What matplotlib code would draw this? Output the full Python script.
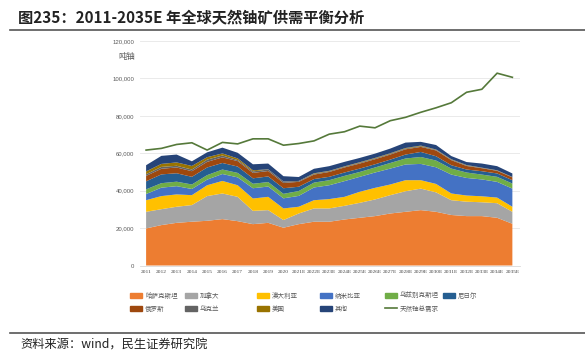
import numpy as np
import matplotlib
matplotlib.use("Agg")
import matplotlib.pyplot as plt
from matplotlib.patches import Patch
from matplotlib.lines import Line2D
from matplotlib.ticker import FuncFormatter

plt.rcParams['font.family'] = ['Noto Sans CJK SC', 'DejaVu Sans']

years = ['2011', '2012', '2013', '2014', '2015', '2016', '2017', '2018', '2019', '2020',
         '2021E', '2022E', '2023E', '2024E', '2025E', '2026E', '2027E', '2028E', '2029E',
         '2030E', '2031E', '2032E', '2033E', '2034E', '2035E']

# supply by country, thousand tonnes U
kazakhstan = [19.8, 21.6, 22.8, 23.4, 23.9, 24.8, 23.7, 22.1, 22.8, 20.2, 22.1,
              23.4, 23.4, 24.6, 25.5, 26.4, 27.8, 28.7, 29.6, 28.7, 27.0, 26.4, 26.4, 25.5, 22.3]
canada = [8.9, 8.5, 8.6, 8.9, 13.2, 13.7, 13.0, 7.1, 6.8, 4.1, 5.7,
          7.1, 7.1, 7.3, 8.0, 8.9, 9.8, 11.0, 11.5, 10.4, 7.9, 7.7, 7.4, 7.8, 6.4]
australia = [6.2, 7.0, 6.6, 5.3, 5.8, 6.7, 6.2, 6.6, 7.1, 6.2, 3.6,
             4.4, 5.0, 4.8, 5.9, 6.2, 5.7, 5.9, 4.5, 4.5, 3.6, 3.3, 3.2, 3.0, 2.7]
namibia = [3.3, 4.5, 4.4, 3.3, 3.0, 3.7, 4.2, 5.5, 5.5, 5.4, 5.8,
           6.8, 7.4, 8.4, 8.0, 8.2, 8.5, 8.4, 8.7, 8.9, 10.1, 9.4, 9.0, 8.4, 9.7]
uzbekistan = [2.5, 2.4, 2.4, 2.4, 2.4, 2.4, 2.4, 2.4, 2.4, 2.4, 2.6,
              2.6, 2.7, 2.8, 2.6, 2.7, 3.0, 3.2, 3.7, 3.6, 3.2, 2.9, 2.6, 2.7, 2.7]
niger = [4.3, 4.7, 4.5, 4.1, 4.1, 3.5, 3.4, 2.9, 3.0, 3.0, 2.3,
         1.9, 1.8, 1.8, 1.8, 1.7, 1.8, 2.1, 2.7, 2.3, 1.8, 1.6, 1.8, 1.8, 1.8]
russia = [2.9, 3.0, 3.1, 3.0, 3.0, 3.0, 2.9, 2.9, 2.9, 2.85, 2.6,
          2.4, 2.6, 2.7, 2.7, 2.7, 2.7, 2.8, 2.7, 3.1, 2.7, 1.9, 1.6, 1.4, 1.5]
ukraine = [0.9, 1.0, 0.9, 0.9, 1.2, 1.0, 0.55, 0.8, 0.8, 0.74, 0.45,
           0.4, 0.4, 0.35, 0.4, 0.4, 0.4, 0.4, 0.4, 0.3, 0.3, 0.3, 0.2, 0.2, 0.1]
usa = [1.5, 1.6, 1.8, 1.9, 1.3, 1.1, 0.9, 0.6, 0.1, 0.05, 0.05,
       0.3, 0.2, 0.25, 0.3, 0.3, 0.3, 0.3, 0.3, 0.2, 0.2, 0.2, 0.1, 0.1, 0.1]
others = [3.3, 4.3, 4.2, 2.5, 2.6, 3.1, 3.0, 3.2, 3.1, 2.8, 2.1,
          2.4, 2.5, 2.4, 2.3, 2.3, 2.5, 2.9, 2.0, 2.4, 1.7, 1.6, 2.2, 2.2, 1.9]
demand = [61.7, 62.6, 64.7, 65.6, 61.7, 65.8, 65.0, 67.7, 67.7, 64.3, 65.2,
          66.6, 70.2, 71.5, 74.5, 73.6, 77.4, 79.2, 81.9, 84.3, 87.0, 92.6, 94.2, 102.8, 100.6]

names = ['哈萨克斯坦', '加拿大', '澳大利亚', '纳米比亚', '乌兹别克斯坦', '尼日尔',
         '俄罗斯', '乌克兰', '美国', '其他']
colors = ['#ED7D31', '#A5A5A5', '#FFC000', '#4472C4', '#70AD47', '#255E91',
          '#9E480E', '#636363', '#997300', '#264478']
demand_name = '天然铀总需求'
demand_color = '#55793A'

supply = [kazakhstan, canada, australia, namibia, uzbekistan, niger, russia, ukraine, usa, others]
supply = [np.array(s) * 1000 for s in supply]
x = np.arange(len(years))

fig = plt.figure(figsize=(5.85, 3.58), dpi=100)
W, H = 585, 358
ax = fig.add_axes([140 / W, 1 - 265.5 / H, 380 / W, 224.5 / H])

ax.stackplot(x, *supply, colors=colors, linewidth=0)
ax.plot(x, np.array(demand) * 1000, color=demand_color, lw=1.2)

ax.set_xlim(-0.4, 24.5)
ax.set_ylim(0, 120000)
ax.set_yticks(np.arange(0, 120001, 20000))
ax.yaxis.set_major_formatter(FuncFormatter(lambda v, p: f"{int(v):,}"))
ax.grid(axis='y', color='#E6E6E6', lw=0.6)
ax.set_axisbelow(True)
for s in ['top', 'right', 'left']:
    ax.spines[s].set_visible(False)
ax.spines['bottom'].set_color('#D9D9D9')
ax.spines['bottom'].set_linewidth(0.6)
ax.tick_params(axis='y', length=0, pad=4, labelsize=4.3, labelcolor='#595959')
ax.tick_params(axis='x', length=0, pad=3)
ax.set_xticks(x)
ax.set_xticklabels(years, fontsize=3.9, color='#404040', family='Liberation Serif')
for lab in ax.get_yticklabels():
    lab.set_family('Liberation Sans')

fig.text(135 / W, 1 - 57 / H, '吨铀', ha='right', va='center', fontsize=6, color='#595959')

# title and frame lines
fig.text(18 / W, 1 - 18 / H, '图235：2011-2035E 年全球天然铀矿供需平衡分析',
         fontsize=11, fontweight='bold', color='#222222', va='center')
fig.add_artist(Line2D([10 / W, 1], [1 - 30 / H] * 2, color='#555555', lw=1.2))
fig.add_artist(Line2D([10 / W, 1], [1 - 333 / H] * 2, color='#555555', lw=1.2))
fig.text(20 / W, 1 - 345 / H, '资料来源：wind，民生证券研究院', fontsize=8.8,
         color='#222222', va='center')

# legend: six columns, two rows
handles = [Patch(color=c) for c in colors] + [Line2D([], [], color=demand_color, lw=1.2)]
labels = names + [demand_name]
col_x = [130, 185, 257, 320, 385, 443]
grid = [[0, 6], [1, 7], [2, 8], [3, 9], [4, 10], [5]]
for cx, idx in zip(col_x, grid):
    leg = fig.legend([handles[i] for i in idx], [labels[i] for i in idx],
                     loc='upper left', bbox_to_anchor=(cx / W, 1 - 292 / H),
                     frameon=False, fontsize=4.7, handlelength=1.9, handleheight=0.9,
                     handletextpad=0.4, labelspacing=0.75, borderpad=0, borderaxespad=0)
    for t in leg.get_texts():
        t.set_color('#595959')

fig.savefig('out.png', dpi=100)
